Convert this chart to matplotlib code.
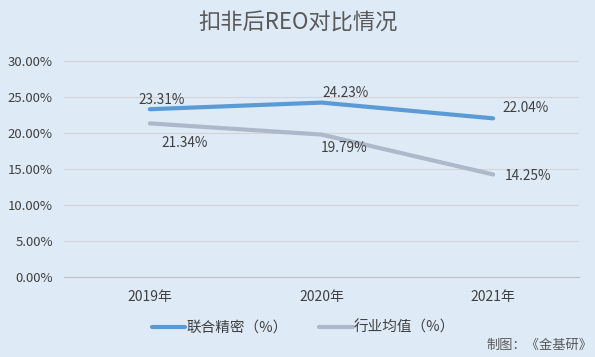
import matplotlib.pyplot as plt

plt.rcParams['font.family'] = ['Noto Sans CJK SC', 'DejaVu Sans']

years = ["2019年", "2020年", "2021年"]
company = [23.31, 24.23, 22.04]
industry = [21.34, 19.79, 14.25]
yticks = [0, 5, 10, 15, 20, 25, 30]

bg = "#DEEAF6"
blue = "#5B9BD5"
gray = "#ADB9CA"
txt = "#404040"

fig = plt.figure(figsize=(5.95, 3.57), dpi=100, facecolor=bg)
ax = fig.add_axes([0.1076, 0.224, 0.8654, 0.605], facecolor=bg)

x = range(len(years))
ax.plot(x, company, color=blue, lw=3, label="联合精密（%）", solid_capstyle="round")
ax.plot(x, industry, color=gray, lw=3, label="行业均值（%）", solid_capstyle="round")

# data labels, offsets in pixels
off_c = [(12, 9), (24, 10), (32, 10)]
off_i = [(35, -20), (23, -13), (35, -2)]
for i, v in enumerate(company):
    ax.annotate(f"{v:.2f}%", (i, v), xytext=off_c[i], textcoords="offset pixels",
                ha="center", va="center", fontsize=9.8, color=txt)
for i, v in enumerate(industry):
    ax.annotate(f"{v:.2f}%", (i, v), xytext=off_i[i], textcoords="offset pixels",
                ha="center", va="center", fontsize=9.8, color=txt)

ax.set_xlim(-0.5, 2.5)
ax.set_ylim(0, 30)
ax.set_xticks(list(x))
ax.set_xticklabels(years, fontsize=10, color=txt)
ax.set_yticks(yticks)
ax.set_yticklabels([f"{t:.2f}%" for t in yticks], fontsize=9.5, color=txt)
ax.tick_params(axis="y", length=0, pad=8)
ax.tick_params(axis="x", length=0, pad=9)
ax.grid(axis="y", color="#D4D4D4", lw=0.8)
for s in ["top", "right", "left"]:
    ax.spines[s].set_visible(False)
ax.spines["bottom"].set_color("#BFBFBF")

fig.text(0.5, 0.935, "扣非后REO对比情况", ha="center", va="center", fontsize=16, color="#595959")

fig.legend(loc="center", bbox_to_anchor=(0.51, 0.082), ncol=2, frameon=False,
           fontsize=10.5, handlelength=2.3, handletextpad=0.05, columnspacing=2.2,
           labelcolor=txt)

fig.text(0.995, 0.033, "制图：《金基研》", ha="right", va="center", fontsize=9.5, color="#595959")

fig.savefig("out.png", dpi=100, facecolor=bg)
